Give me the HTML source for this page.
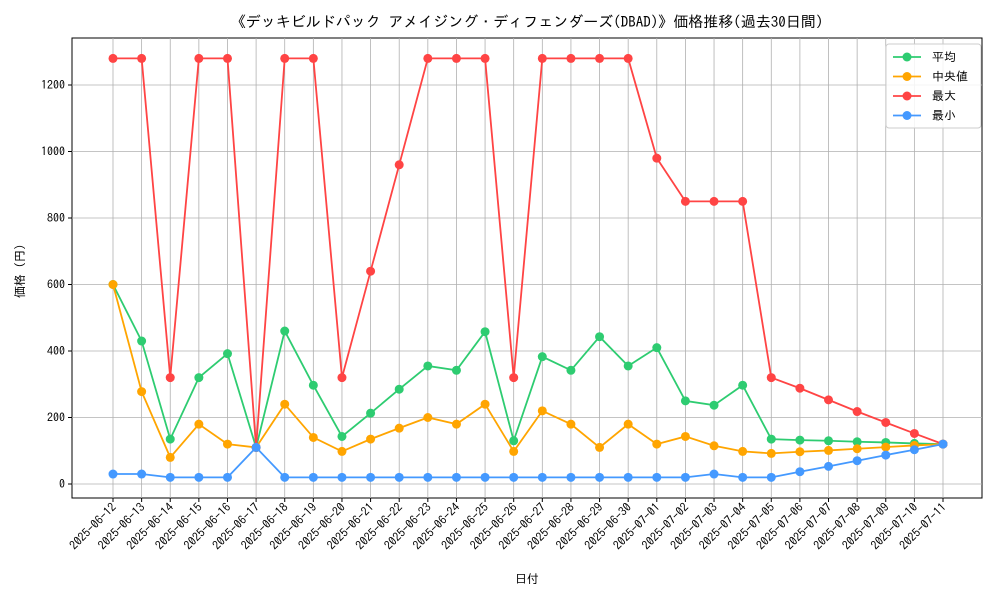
<!DOCTYPE html>
<html><head><meta charset="utf-8"><style>
body{margin:0;background:#fff;font-family:"Liberation Sans","IPAGothic","Noto Sans CJK JP",sans-serif;}
svg text{font-family:"IPAGothic","Noto Sans CJK JP",sans-serif;fill:#000;}
</style></head><body>
<svg id="chart" width="1000" height="600">
<text x="527" y="27" font-size="15" text-anchor="middle">《デッキビルドパック アメイジング・ディフェンダーズ(DBAD)》価格推移(過去30日間)</text>
<rect x="72" y="38" width="910" height="460" fill="none" stroke="#000" stroke-width="1"/>
<g id="grid"></g><g id="series"></g><g id="axes"></g>
<text x="527" y="583" font-size="12" text-anchor="middle">日付</text>
<text x="24" y="268" font-size="12" text-anchor="middle" transform="rotate(-90 24 268)">価格（円）</text>
<g id="legend">
<rect x="886" y="44" width="95" height="84" fill="#fff" fill-opacity="0.85" stroke="#ccc" rx="3"/>
</g>
</svg>
<script>
const dates=["2025-06-12","2025-06-13","2025-06-14","2025-06-15","2025-06-16","2025-06-17","2025-06-18","2025-06-19","2025-06-20","2025-06-21","2025-06-22","2025-06-23","2025-06-24","2025-06-25","2025-06-26","2025-06-27","2025-06-28","2025-06-29","2025-06-30","2025-07-01","2025-07-02","2025-07-03","2025-07-04","2025-07-05","2025-07-06","2025-07-07","2025-07-08","2025-07-09","2025-07-10","2025-07-11"];
const avgValues=[600,430,135,320,392,110,460,297,143,213,285,355,342,458,130,383,342,443,355,410,250,237,297,135,132,130,127,125,122,120];
const medianValues=[600,278,80,180,120,110,240,140,98,135,168,200,180,240,98,220,180,110,180,120,143,115,98,92,97,101,106,111,116,120];
const maxValues=[1280,1280,320,1280,1280,110,1280,1280,320,640,960,1280,1280,1280,320,1280,1280,1280,1280,980,850,850,850,320,288,253,218,185,152,120];
const minValues=[30,30,20,20,20,110,20,20,20,20,20,20,20,20,20,20,20,20,20,20,20,30,20,20,37,53,70,87,103,120];
const yTicks=[0,200,400,600,800,1000,1200];
const seriesNames=["平均","中央値","最大","最小"];
const NS="http://www.w3.org/2000/svg";
const x=i=>113+i*(830/(dates.length-1));
const y=v=>484-v*(66.5/200);
function mk(tag,attrs,parent){const e=document.createElementNS(NS,tag);for(const k in attrs)e.setAttribute(k,attrs[k]);parent.appendChild(e);return e;}
const grid=document.getElementById('grid'),axes=document.getElementById('axes'),ser=document.getElementById('series');
yTicks.forEach(t=>{
 const l=mk('line',{x1:72,x2:982,y1:y(t),y2:y(t),stroke:'#b0b0b0','stroke-width':0.8},grid);
 
 
 mk('line',{x1:68,x2:72,y1:y(t),y2:y(t),stroke:'#000'},axes);
 const tx=mk('text',{x:65,y:y(t)+4,'font-size':12,'text-anchor':'end'},axes);tx.textContent=t;
 
 
});
dates.forEach((d,i)=>{
 const l=mk('line',{x1:x(i),x2:x(i),y1:38,y2:498,stroke:'#b0b0b0','stroke-width':0.8},grid);
 
 
 mk('line',{x1:x(i),x2:x(i),y1:498,y2:502,stroke:'#000'},axes);
 const tx=mk('text',{x:x(i)+4,y:508,'font-size':12,'text-anchor':'end',transform:`rotate(-45 ${x(i)+4} 508)`},axes);tx.textContent=d;
 
 
});
const all=[[avgValues,'#2ecc71'],[medianValues,'#ffa500'],[maxValues,'#ff4444'],[minValues,'#4499ff']];
all.forEach(([vals,c],si)=>{
 const p=mk('polyline',{points:vals.map((v,i)=>x(i)+','+y(v)).join(' '),fill:'none',stroke:c,'stroke-width':1.8},ser);
 
 
 vals.forEach((v,i)=>{const m=mk('circle',{cx:x(i),cy:y(v),r:4.5,fill:c},ser);
 
 });
});
const lg=document.getElementById('legend');
seriesNames.forEach((n,i)=>{
 const yy=57+i*19.5,c=all[i][1];
 mk('line',{x1:893,x2:921,y1:yy,y2:yy,stroke:c,'stroke-width':1.8},lg);
 mk('circle',{cx:907,cy:yy,r:4.5,fill:c},lg);
 const t=mk('text',{x:932,y:yy+4,'font-size':12},lg);t.textContent=(i==1?' ':'')+n;
 
 
});
</script>
</body></html>
